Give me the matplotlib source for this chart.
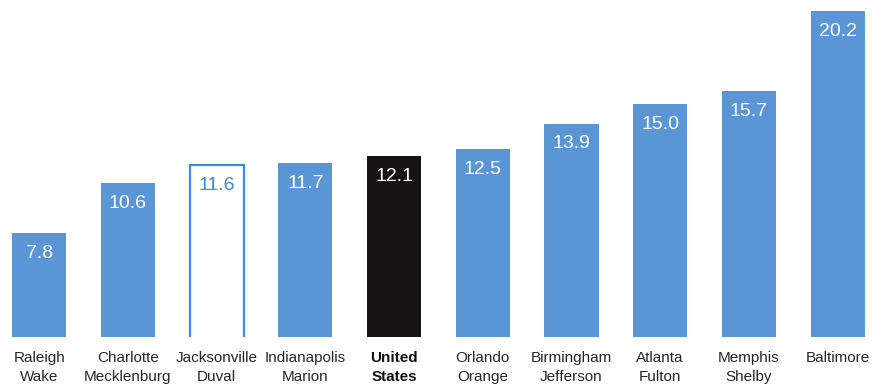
import matplotlib
matplotlib.use("Agg")
import matplotlib.pyplot as plt

# Data
places = ["Raleigh\nWake", "Charlotte\nMecklenburg", "Jacksonville\nDuval",
          "Indianapolis\nMarion", "United\nStates", "Orlando\nOrange",
          "Birmingham\nJefferson", "Atlanta\nFulton", "Memphis\nShelby",
          "Baltimore"]
values = [7.8, 10.6, 11.6, 11.7, 12.1, 12.5, 13.9, 15.0, 15.7, 20.2]

BLUE = "#5A96D6"
EDGE_BLUE = "#3A8ED4"
BLACK = "#151313"

fig = plt.figure(figsize=(8.72, 3.90), dpi=100)
ax = fig.add_axes([0, 1 - 336.7 / 390, 1, 336.7 / 390])

x = list(range(len(values)))
for i, (xi, v) in enumerate(zip(x, values)):
    name = places[i]
    if name.startswith("Jacksonville"):
        ax.bar(xi, v, width=0.61, bottom=0, color="white",
               edgecolor=EDGE_BLUE, linewidth=1.6, zorder=2)
        tc = EDGE_BLUE
    elif name.startswith("United"):
        ax.bar(xi, v, width=0.61, color=BLACK, zorder=2)
        tc = "white"
    else:
        ax.bar(xi, v, width=0.61, color=BLUE, zorder=2)
        tc = "white"
    ax.annotate(f"{v:.1f}", xy=(xi, v), xytext=(0, -8.5),
                textcoords="offset points", ha="center", va="top",
                fontsize=14, color=tc, family=["Liberation Sans", "DejaVu Sans"],
                zorder=3)

ax.set_ylim(2.0, 20.81)
ax.set_xlim(-0.443, 9.388)
ax.set_xticks(x)
ax.set_xticklabels(places, fontsize=11, color="#262626",
                   family=["Liberation Sans", "DejaVu Sans"],
                   linespacing=1.5)
for lbl in ax.get_xticklabels():
    if lbl.get_text().startswith("United"):
        lbl.set_fontweight("bold")
        lbl.set_color("#111111")
ax.tick_params(axis="x", length=0, pad=10)
ax.set_yticks([])
for s in ax.spines.values():
    s.set_visible(False)

fig.savefig("out.png", dpi=100, facecolor="white")
